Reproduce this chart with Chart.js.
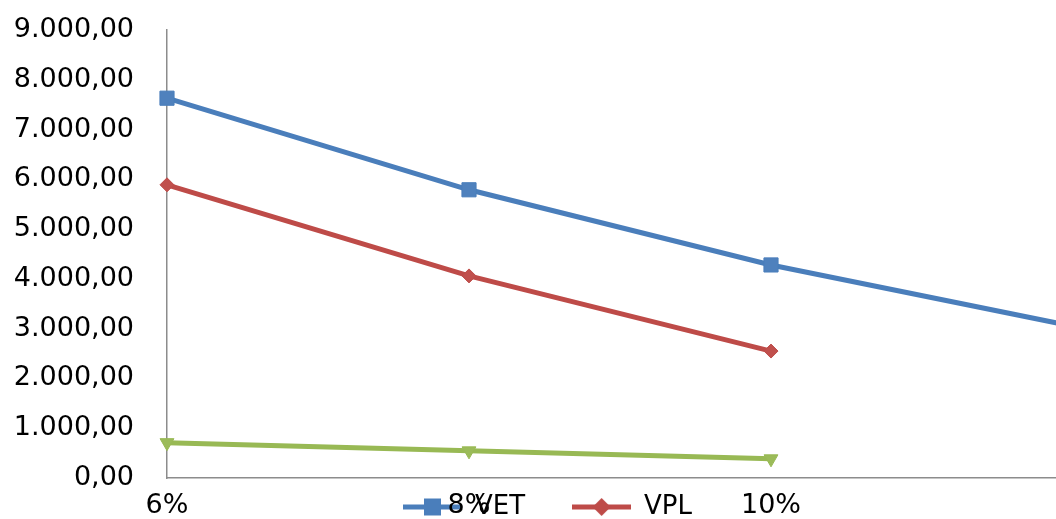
<!DOCTYPE html>
<html>
<head>
<meta charset="utf-8">
<script src="https://cdn.jsdelivr.net/npm/chart.js@4"></script>
<style>
  html, body { margin: 0; padding: 0; overflow: hidden; background: #fff; }
  #wrap { width: 1056px; height: 519px; overflow: hidden; }
</style>
</head>
<body>
<div id="wrap"><canvas id="taxaChart" width="1108" height="601"></canvas></div>
<script>
// last category has no label visible in the picture
var categories = ['6%', '8%', '10%', ''];
var vetValues = [7630, 5790, 4280, 3050];
var vplValues = [5890, 4060, 2550, null];
var vaeValues = [710, 545, 385, null];
var yTicks = [0, 1000, 2000, 3000, 4000, 5000, 6000, 7000, 8000, 9000];

// 9000 -> "9.000,00"
function fmt(v) {
  var s = Number(v).toFixed(2).split('.');
  return s[0].replace(/\B(?=(\d{3})+(?!\d))/g, '.') + ',' + s[1];
}

// legend mark: line with the marker in the middle, like excel
function legendImage(colour, style) {
  var c = document.createElement('canvas');
  c.width = 59;
  c.height = 22;
  var ctx = c.getContext('2d');
  ctx.strokeStyle = colour;
  ctx.lineWidth = 5;
  ctx.beginPath();
  ctx.moveTo(0, 11);
  ctx.lineTo(59, 11);
  ctx.stroke();
  ctx.fillStyle = colour;
  ctx.beginPath();
  if (style === 'square') {
    ctx.rect(21, 2.5, 17, 17);
  } else if (style === 'diamond') {
    ctx.moveTo(29.5, 2); ctx.lineTo(38.5, 11); ctx.lineTo(29.5, 20); ctx.lineTo(20.5, 11);
  } else {
    ctx.moveTo(21, 4); ctx.lineTo(38, 4); ctx.lineTo(29.5, 19);
  }
  ctx.closePath();
  ctx.fill();
  return c;
}

var legendMarks = [
  legendImage('#4A7EBB', 'square'),
  legendImage('#BE4B48', 'diamond'),
  legendImage('#98B954', 'triangle')
];

// excel draws the legend over the axis labels, so move it after layout
var legendShift = {
  id: 'legendShift',
  afterLayout: function(chart) {
    var lg = chart.legend;
    var h = lg.bottom - lg.top;
    lg.top = chart.chartArea.bottom - 31;
    lg.bottom = lg.top + h;
    lg.left += 11;
    lg.right += 11;
  }
};

Chart.defaults.font.family = "'DejaVu Sans', sans-serif";
Chart.defaults.font.size = 27;
Chart.defaults.color = '#000';

var ctx = document.getElementById('taxaChart').getContext('2d');
var taxaChart = new Chart(ctx, {
  type: 'line',
  data: {
    labels: categories,
    datasets: [{
        label: 'VET',
        data: vetValues,
        borderColor: '#4A7EBB',
        backgroundColor: '#4F81BD',
        borderWidth: 5,
        pointStyle: 'rect',
        pointRadius: 10,
        pointBorderWidth: 1,
        pointBackgroundColor: '#4F81BD',
        pointBorderColor: '#4A7EBB',
        fill: false
      },
      {
        label: 'VPL',
        data: vplValues,
        borderColor: '#BE4B48',
        backgroundColor: '#C0504D',
        borderWidth: 5,
        pointStyle: 'rectRot',
        pointRadius: 7,
        pointBorderWidth: 1,
        pointBackgroundColor: '#C0504D',
        pointBorderColor: '#BE4B48',
        fill: false
      },
      {
        label: 'VAE',
        data: vaeValues,
        borderColor: '#98B954',
        backgroundColor: '#9BBB59',
        borderWidth: 5,
        pointStyle: 'triangle',
        rotation: 180,
        pointRadius: 8,
        pointBorderWidth: 1,
        pointBackgroundColor: '#9BBB59',
        pointBorderColor: '#98B954',
        fill: false
      }
    ]
  },
  options: {
    responsive: false,
    animation: false,
    layout: { padding: { top: 30, right: 35, left: 0, bottom: 0 } },
    plugins: {
      tooltip: { enabled: false },
      legend: {
        position: 'bottom',
        labels: {
          usePointStyle: true,
          pointStyleWidth: 59,
          padding: 47,
          font: { size: 26 },
          color: '#000',
          filter: function(item) { return item.datasetIndex < 2; },
          generateLabels: function(chart) {
            var items = Chart.defaults.plugins.legend.labels.generateLabels(chart);
            items.forEach(function(item) {
              item.pointStyle = legendMarks[item.datasetIndex];
            });
            return items;
          }
        }
      }
    },
    scales: {
      x: {
        offset: false,
        grid: { display: false },
        border: { display: true, color: '#8c8c8c', width: 1.5 },
        ticks: { padding: 4, maxRotation: 0, autoSkip: false, color: '#000' },
        afterFit: function(scale) { scale.height = 40; }
      },
      y: {
        min: yTicks[0],
        max: yTicks[yTicks.length - 1],
        grid: { display: false },
        border: { display: true, color: '#8c8c8c', width: 1.5 },
        ticks: {
          stepSize: yTicks[1] - yTicks[0],
          padding: 25,
          color: '#000',
          callback: function(value) { return fmt(value); }
        },
        afterFit: function(scale) {
          scale.width = 167;
          // the label gap should not push the plot down
          scale.paddingTop = 0;
          scale.paddingBottom = 0;
        }
      }
    }
  },
  plugins: [legendShift]
});
</script>
</body>
</html>
